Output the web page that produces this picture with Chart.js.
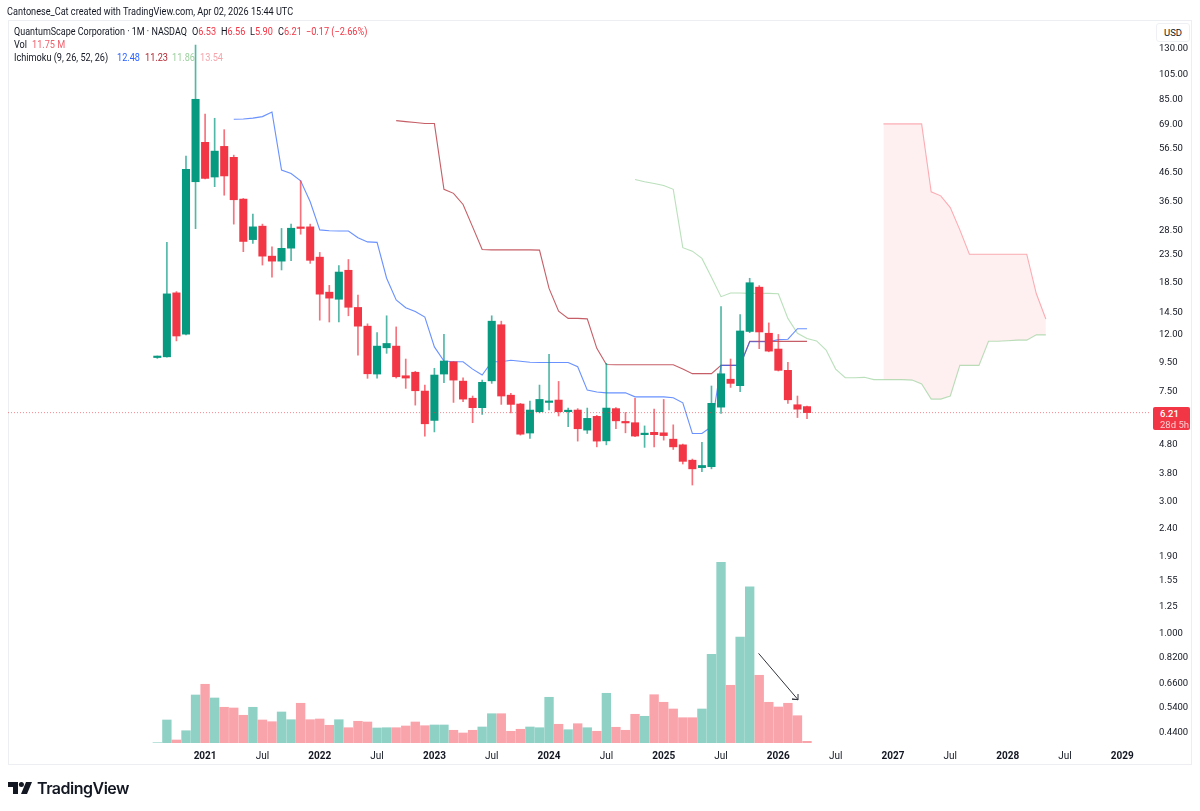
<!DOCTYPE html>
<html>
<head>
<meta charset="utf-8">
<title>QuantumScape 1M</title>
<script src="https://cdn.jsdelivr.net/npm/chart.js@4"></script>
<style>
  html, body { margin: 0; padding: 0; background: #fff; }
  body { width: 1200px; height: 811px; position: relative; overflow: hidden; font-family: Roboto, sans-serif; color: #131722; }
  canvas { position: absolute; left: 0; top: 0; }
  .frame { position: absolute; left: 8px; top: 20px; width: 1184px; height: 745px; border: 1px solid #eceef1; box-sizing: border-box; }
  .txt { position: absolute; white-space: nowrap; font-size: 10.4px; line-height: 13px; transform: scaleX(.88); transform-origin: left center; }
  .red { color: #f23645; }
  .usd { position: absolute; left: 1156px; top: 23px; width: 34px; height: 19px; box-sizing: border-box; background: #fff; border: 1px solid #eef0f3; border-radius: 3px; font-size: 9.5px; line-height: 17px; text-align: center; }
  .last { position: absolute; left: 1153px; top: 407px; width: 37px; height: 23px; background: #f23645; border-radius: 2px; color: #fff; font-size: 9.5px; font-weight: 500; line-height: 11px; padding: 1px 0 0 7px; box-sizing: border-box; white-space: nowrap; }
  .last i { font-style: normal; font-weight: 400; opacity: .75; }
  .logo { position: absolute; left: 8px; top: 781px; }
  .brand { position: absolute; left: 37px; top: 778px; font: 600 16px/21px Inter, sans-serif; letter-spacing: -.5px; color: #131722; }
</style>
</head>
<body>
<div class="frame"></div>
<canvas id="chart" width="1200" height="811"></canvas>
<div class="txt" style="left:7px;top:5px;">Cantonese_Cat created with TradingView.com, Apr 02, 2026 15:44 UTC</div>
<div class="txt" style="left:14px;top:25px;transform:scaleX(.865);">QuantumScape Corporation · 1M · NASDAQ</div>
<div class="txt" style="left:192px;top:25px;">O<span class="red">6.53</span></div>
<div class="txt" style="left:221px;top:25px;">H<span class="red">6.56</span></div>
<div class="txt" style="left:250px;top:25px;">L<span class="red">5.90</span></div>
<div class="txt" style="left:278px;top:25px;">C<span class="red">6.21</span></div>
<div class="txt red" style="left:306px;top:25px;">−0.17 (−2.66%)</div>
<div class="txt" style="left:14px;top:38px;">Vol</div>
<div class="txt" style="left:32px;top:38px;color:#f0606c;">11.75 M</div>
<div class="txt" style="left:14px;top:51px;">Ichimoku (9, 26, 52, 26)</div>
<div class="txt" style="left:117px;top:51px;color:#2962ff;">12.48</div>
<div class="txt" style="left:145px;top:51px;color:#b22833;">11.23</div>
<div class="txt" style="left:172px;top:51px;color:#9ccf9f;">11.86</div>
<div class="txt" style="left:200px;top:51px;color:#f4a6ac;">13.54</div>
<div class="usd">USD</div>
<div class="last">6.21<br><i>28d 5h</i></div>
<svg class="logo" width="24" height="14" viewBox="0 0 24 14"><path d="M0 1h10v12H5V6H0z" fill="#131722"/><circle cx="13.4" cy="3.6" r="2.5" fill="#131722"/><path d="M18 1h6l-5 12h-6z" fill="#131722"/></svg>
<div class="brand">TradingView</div>

<script>
// monthly candles, Aug 2020 (index 0) to Apr 2026 (index 68)
const openPrices = [
  9.82, 9.88, 16.82, 11.92, 42.4, 58.86, 44.1, 56.9, 51.95, 36.7,
  26.2, 29.3, 22.83, 21.9, 24.4, 29.0, 29.13, 22.64, 16.92, 15.95,
  20.3, 14.9, 12.75, 8.56, 10.65, 10.8, 8.44, 8.69, 7.43, 5.82,
  8.56, 9.48, 8.07, 7.0, 6.47, 8.09, 12.9, 7.18, 6.67, 5.24,
  6.26, 6.76, 6.895, 6.26, 6.345, 5.37, 6.02, 4.91, 6.42, 5.74,
  5.71, 5.17, 5.27, 5.25, 4.98, 4.75, 4.18, 3.93, 3.96, 6.5,
  8.2, 7.77, 12.2, 17.64, 12.02, 10.54, 8.83, 6.63, 6.53];
const highPrices = [
  9.95, 25.6, 17.0, 52.5, 132.2, 74.5, 71.9, 65.4, 52.9, 36.9,
  32.4, 29.8, 24.69, 28.75, 29.8, 42.75, 29.8, 23.55, 17.9, 21.1,
  22.2, 16.5, 13.0, 12.08, 13.9, 12.67, 9.7, 8.76, 7.81, 8.98,
  11.92, 9.5, 8.3, 7.13, 8.14, 13.9, 13.29, 7.29, 6.71, 6.84,
  7.81, 10.08, 8.05, 6.45, 6.42, 6.45, 6.07, 9.36, 6.47, 6.22,
  7.0, 5.56, 6.39, 6.93, 5.61, 4.78, 4.22, 4.85, 7.75, 15.0,
  9.7, 14.05, 18.99, 17.87, 13.1, 11.9, 9.44, 7.13, 6.56];
const lowPrices = [
  9.75, 9.85, 11.28, 11.85, 28.7, 43.4, 40.7, 37.9, 29.8, 23.7,
  25.4, 21.2, 19.15, 20.35, 22.0, 27.4, 21.5, 13.4, 13.2, 13.2,
  13.9, 10.02, 8.26, 8.28, 10.17, 8.28, 7.6, 6.61, 5.11, 5.29,
  7.96, 6.76, 6.8, 5.71, 6.12, 7.92, 6.65, 6.2, 5.15, 5.01,
  6.2, 6.345, 6.04, 5.52, 4.9, 5.22, 4.67, 4.75, 5.43, 5.25,
  5.08, 4.65, 4.67, 4.94, 4.57, 4.05, 3.4, 3.8, 3.89, 6.17,
  7.66, 7.4, 12.08, 10.57, 10.3, 8.78, 6.71, 5.96, 5.9];
const closePrices = [
  9.86, 16.68, 11.75, 46.97, 84.2, 43.6, 54.7, 44.5, 36.5, 25.8,
  29.13, 22.83, 21.9, 24.36, 28.8, 28.75, 22.05, 16.64, 16.1, 20.0,
  14.92, 12.75, 8.58, 10.8, 11.04, 8.37, 8.28, 7.45, 5.66, 8.49,
  9.54, 8.14, 6.95, 6.47, 7.99, 13.29, 7.13, 6.65, 5.19, 6.345,
  6.93, 6.82, 6.26, 6.31, 5.43, 5.92, 4.9, 6.45, 5.8, 5.7,
  5.11, 5.22, 5.17, 5.13, 4.67, 4.14, 3.89, 4.0, 6.71, 8.58,
  7.92, 12.25, 18.3, 12.15, 10.36, 8.83, 6.91, 6.39, 6.21];
// volume in millions
const volumes = [
  2, 161, 21, 86, 336, 411, 315, 250, 245, 194,
  250, 161, 149, 217, 163, 278, 163, 168, 124, 163,
  107, 152, 147, 105, 107, 107, 119, 147, 121, 126,
  126, 89, 70, 89, 112, 205, 205, 82, 96, 112,
  107, 320, 131, 93, 135, 107, 82, 348, 110, 89,
  201, 187, 338, 285, 238, 177, 177, 238, 621, 1265,
  404, 742, 1094, 474, 285, 252, 278, 191, 11.75];

// ichimoku, each list starts at its own month index
const tenkanStart = 8;
const tenkan = [
  71.3, 71.5, 72.0, 72.9, 75.7, 46.7, 45.4, 42.75, 35.9, 28.4,
  28.2, 28.15, 28.15, 26.6, 25.7, 25.6, 19.0, 15.85, 14.87, 14.4,
  13.75, 10.73, 9.54, 9.48, 9.48, 8.92, 8.49, 9.48, 9.48, 9.6,
  9.52, 9.44, 9.42, 9.42, 9.42, 9.42, 9.1, 7.49, 7.37, 7.32,
  7.32, 7.32, 7.08, 7.08, 7.08, 7.08, 7.03, 6.74, 5.22, 5.22,
  5.52, 9.2, 9.2, 9.2, 11.2, 11.2, 11.2, 11.4, 11.44, 12.48, 12.48];
const kijunStart = 25;
const kijun = [
  70.5, 69.9, 69.4, 68.8, 68.8, 39.8, 38.5, 35.1, 29.13, 24.14,
  24.06, 24.06, 24.06, 24.06, 24.06, 24.0, 17.45, 14.44, 13.6, 13.6,
  13.55, 10.6, 9.27, 9.25, 9.25, 9.25, 9.25, 9.25, 9.25, 9.25,
  8.92, 8.59, 8.59, 8.59, 9.2, 9.2, 9.2, 11.23, 11.23, 11.23,
  11.23, 11.23, 11.23, 11.23];
const leadAStart = 50;
const leadA = [
  43.2, 42.4, 41.8, 41.1, 39.8, 24.5, 23.8, 22.4, 19.15, 16.3,
  16.8, 16.8, 16.75, 16.75, 16.75, 16.7, 13.6, 12.02, 11.5, 11.28,
  10.45, 8.92, 8.3, 8.3, 8.33, 8.17, 8.17, 8.17, 8.17, 8.14,
  7.88, 6.95, 6.95, 7.13, 9.2, 9.2, 9.2, 11.25, 11.25, 11.3,
  11.35, 11.35, 11.86, 11.86];
const leadBStart = 76;
const leadB = [
  68.6, 68.6, 68.6, 68.6, 68.6, 39.0, 37.7, 34.2, 28.4, 23.2,
  23.2, 23.2, 23.2, 23.2, 23.2, 23.2, 16.73, 13.54];

const lastClose = 6.21;

// the drawn arrow over the volume, in month index and price
const arrowMonths = [62.93, 67.06, 66.43, 67.06, 67.06];
const arrowPrices = [0.838, 0.57, 0.573, 0.57, 0.5975];

const priceTicks = [130, 105, 85, 69, 56.5, 46.5, 36.5, 28.5, 23.5, 18.5, 14.5, 12, 9.5, 7.5, 4.8, 3.8, 3, 2.4, 1.9, 1.55, 1.25, 1, 0.82, 0.66, 0.54, 0.44];
const priceTickLabels = ['130.00', '105.00', '85.00', '69.00', '56.50', '46.50', '36.50', '28.50', '23.50', '18.50', '14.50', '12.00', '9.50', '7.50', '4.80', '3.80', '3.00', '2.40', '1.90', '1.55', '1.25', '1.000', '0.8200', '0.6600', '0.5400', '0.4400'];
const timeTicks = [5, 11, 17, 23, 29, 35, 41, 47, 53, 59, 65, 71, 77, 83, 89, 95, 101];
const timeTickLabels = ['2021', 'Jul', '2022', 'Jul', '2023', 'Jul', '2024', 'Jul', '2025', 'Jul', '2026', 'Jul', '2027', 'Jul', '2028', 'Jul', '2029'];

const UP = '#089981';
const DOWN = '#f23645';
const isUp = i => closePrices[i] >= openPrices[i];
const toPoints = (values, start) => values.map((v, i) => ({ x: start + i, y: v }));
const line = (label, data, color, order, extra) => Object.assign({
  type: 'line', label, data, borderColor: color, borderWidth: 1.1, pointRadius: 0, tension: 0, fill: false, order, yAxisID: 'y'
}, extra);

const datasets = [
  line('Lead A', toPoints(leadA, leadAStart), 'rgba(129,199,132,0.55)', 5),
  line('Lead B', toPoints(leadB, leadBStart), 'rgba(247,82,95,0.45)', 5, {
    fill: { target: 0 }, backgroundColor: 'rgba(247,82,95,0.09)'
  }),
  line('Tenkan', toPoints(tenkan, tenkanStart), 'rgba(41,98,255,0.7)', 4),
  line('Kijun', toPoints(kijun, kijunStart), 'rgba(178,40,51,0.75)', 4),
  {
    type: 'bar', label: 'Vol', yAxisID: 'yVol', order: 6, barThickness: 8.7,
    data: toPoints(volumes, 0),
    backgroundColor: ctx => isUp(ctx.dataIndex) ? 'rgba(8,153,129,0.45)' : 'rgba(242,54,69,0.45)'
  },
  {
    type: 'bar', label: 'Wicks', yAxisID: 'y', order: 2, barThickness: 1,
    data: lowPrices.map((low, i) => ({ x: i, y: [low, highPrices[i]] })),
    backgroundColor: ctx => isUp(ctx.dataIndex) ? 'rgba(8,153,129,0.7)' : 'rgba(242,54,69,0.7)'
  },
  {
    type: 'bar', label: 'Bodies', yAxisID: 'y', order: 1, barThickness: 7.4, minBarLength: 1.5,
    data: openPrices.map((open, i) => ({ x: i, y: [Math.min(open, closePrices[i]), Math.max(open, closePrices[i])] })),
    backgroundColor: ctx => isUp(ctx.dataIndex) ? UP : DOWN
  },
  line('Last', [{ x: -15.63, y: lastClose }, { x: 103.9, y: lastClose }], 'rgba(242,54,69,0.6)', 0, { borderDash: [1, 2], borderWidth: 1 }),
  line('Arrow', arrowMonths.map((m, i) => ({ x: m, y: arrowPrices[i] })), '#30333b', 0, { borderWidth: 1 })
];

new Chart(document.getElementById('chart'), {
  type: 'bar',
  data: { datasets },
  options: {
    responsive: false,
    animation: false,
    events: [],
    layout: { padding: { left: 8, right: 8, top: 21, bottom: 45 } },
    datasets: { bar: { grouped: false, borderWidth: 0 } },
    plugins: { legend: { display: false }, tooltip: { enabled: false }, title: { display: false } },
    scales: {
      x: {
        type: 'linear',
        offset: false,
        min: -15.63,
        max: 103.9,
        grid: { display: false, offset: false, drawTicks: false },
        border: { display: false },
        afterBuildTicks: axis => { axis.ticks = timeTicks.map(v => ({ value: v })); },
        afterFit: axis => { axis.height = 23; },
        ticks: {
          autoSkip: false,
          maxRotation: 0,
          padding: 7,
          color: '#131722',
          font: ctx => ({ family: 'Roboto', size: 10, weight: /^\d/.test(timeTickLabels[ctx.index]) ? '700' : '400' }),
          callback: (v, i) => timeTickLabels[i]
        }
      },
      y: {
        type: 'logarithmic',
        position: 'right',
        min: 0.3975,
        max: 161.5,
        grid: { display: false, drawTicks: false },
        border: { display: false },
        afterBuildTicks: axis => { axis.ticks = priceTicks.map(v => ({ value: v })); },
        afterFit: axis => { axis.width = 42; },
        ticks: {
          autoSkip: false,
          padding: 9,
          labelOffset: 1.5,
          color: '#131722',
          font: { family: 'Roboto', size: 9.5 },
          callback: (v, i) => priceTickLabels[i]
        }
      },
      yVol: { type: 'linear', display: false, min: 0, max: 5054 }
    }
  }
});
</script>
</body>
</html>
